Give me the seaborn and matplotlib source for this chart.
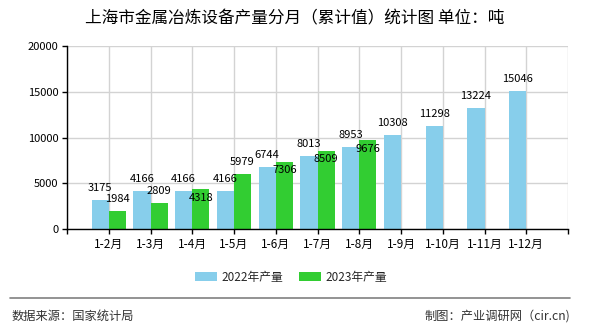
import matplotlib
matplotlib.use("Agg")
import matplotlib.pyplot as plt
import seaborn as sns
import pandas as pd
import numpy as np

# ---- data ----
months = ["1-2月", "1-3月", "1-4月", "1-5月", "1-6月", "1-7月", "1-8月",
          "1-9月", "1-10月", "1-11月", "1-12月"]
series_names = ["2022年产量", "2023年产量"]
values_2022 = [3175, 4166, 4166, 4166, 6744, 8013, 8953, 10308, 11298, 13224, 15046]
values_2023 = [1984, 2809, 4318, 5979, 7306, 8509, 9676]
# label placement for 2023 values (above / below the bar top), as in the reference
place_2023 = ["above", "above", "below", "above", "below", "below", "below"]
yticks = [0, 5000, 10000, 15000, 20000]

title = "上海市金属冶炼设备产量分月（累计值）统计图 单位：吨"
source = "数据来源：国家统计局"
credit = "制图：产业调研网（cir.cn)"

colors = ["#87CEEB", "#32CD32"]

# ---- table ----
rows = []
for m, v in zip(months, values_2022):
    rows.append({"month": m, "series": series_names[0], "value": v})
for m, v in zip(months, values_2023):
    rows.append({"month": m, "series": series_names[1], "value": v})
df = pd.DataFrame(rows)

sns.set_theme(style="white")
plt.rcParams["font.family"] = ["Noto Sans CJK SC", "DejaVu Sans"]

W, H = 590, 330
fig = plt.figure(figsize=(W / 100, H / 100), dpi=100)
ax = fig.add_axes([67 / W, 1 - 229 / H, (568 - 67) / W, (229 - 46) / H])

sns.barplot(data=df, x="month", y="value", hue="series", order=months,
            hue_order=series_names, palette=colors, errorbar=None,
            width=0.82, saturation=1, linewidth=0, edgecolor="none",
            ax=ax, zorder=2)

# axes styling
ax.set_xlim(-1, len(months))
ax.set_ylim(0, 20000)
ax.set_yticks(yticks)
ax.set_yticklabels([str(t) for t in yticks], fontsize=8)
xt = list(range(-1, len(months) + 1))
ax.set_xticks(xt)
ax.set_xticklabels([""] + months + [""], fontsize=8.5)
ax.set_xlabel("")
ax.set_ylabel("")
ax.grid(True, color="#d3d3d3", linewidth=1, zorder=0)
ax.set_axisbelow(True)
for s in ["top", "right"]:
    ax.spines[s].set_visible(False)
for s in ["left", "bottom"]:
    ax.spines[s].set_color("black")
    ax.spines[s].set_linewidth(1)
ax.tick_params(axis="both", which="both", direction="out", length=3.6,
               width=1, color="black", pad=2.5, labelcolor="black",
               bottom=True, left=True)

# value labels
c22, c23 = ax.containers[0], ax.containers[1]
for bar, v in zip(c22, values_2022):
    ax.annotate(str(v), (bar.get_x() + bar.get_width() / 2, bar.get_height()),
                xytext=(0, 8.6), textcoords="offset points",
                ha="center", va="center", fontsize=8, color="black", zorder=5)
for bar, v, p in zip(c23, values_2023, place_2023):
    off = 8.6 if p == "above" else -5.8
    ax.annotate(str(v), (bar.get_x() + bar.get_width() / 2, bar.get_height()),
                xytext=(0, off), textcoords="offset points",
                ha="center", va="center", fontsize=8, color="black", zorder=5)

# legend
handles, labels = ax.get_legend_handles_labels()
if ax.get_legend() is not None:
    ax.get_legend().remove()
fig.legend(handles, labels, loc="center", bbox_to_anchor=(291 / W, 1 - 277 / H),
           ncol=2, frameon=False, fontsize=8.5, handlelength=1.9,
           handleheight=0.7, handletextpad=0.35, columnspacing=1.35,
           borderaxespad=0, borderpad=0)

# title
fig.text(295 / W, 1 - 19 / H, title, ha="center", va="center",
         fontsize=12, fontweight="medium", color="black")

# footer
fig.add_artist(plt.Line2D([10 / W, 570 / W], [1 - 298 / H, 1 - 298 / H],
                          color="#808080", linewidth=1.2))
fig.text(12 / W, 1 - 316 / H, source, ha="left", va="center",
         fontsize=8.8, color="#333333")
fig.text(570 / W, 1 - 316 / H, credit, ha="right", va="center",
         fontsize=8.8, color="#333333")

fig.savefig("out.png", dpi=100)
